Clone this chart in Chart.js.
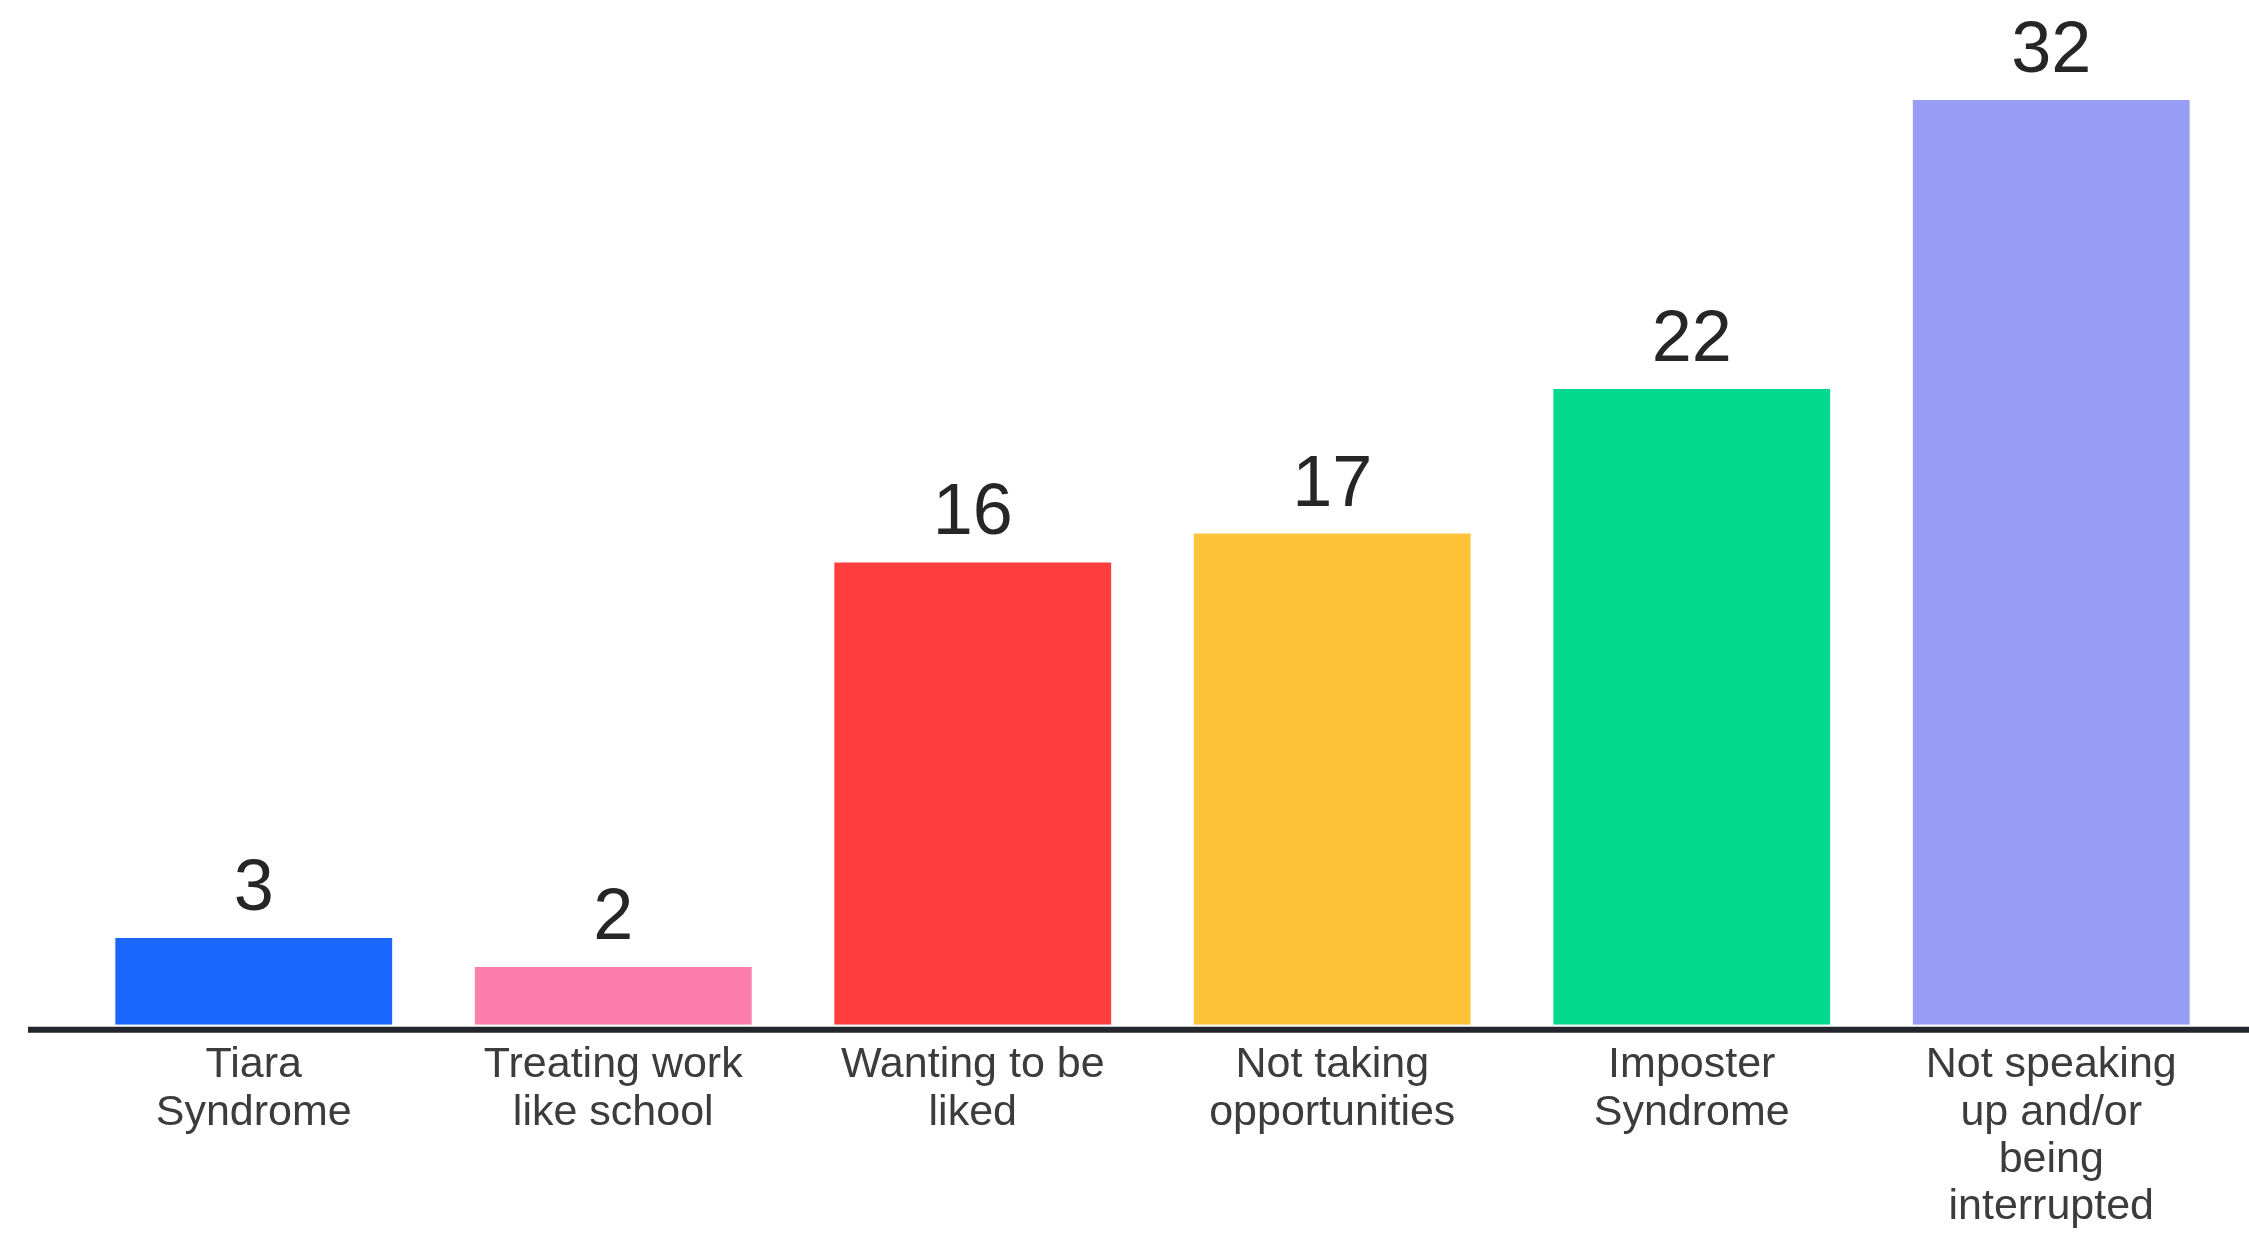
<!DOCTYPE html>
<html>
<head>
<meta charset="utf-8">
<script src="https://cdn.jsdelivr.net/npm/chart.js@4/dist/chart.umd.min.js"></script>
<style>
  html, body { margin: 0; padding: 0; background: #ffffff; }
  #wrap { width: 2249px; height: 1234px; position: relative; }
</style>
</head>
<body>
<div id="wrap"><canvas id="c"></canvas></div>
<script>
const categories = [
  ["Tiara", "Syndrome"],
  ["Treating work", "like school"],
  ["Wanting to be", "liked"],
  ["Not taking", "opportunities"],
  ["Imposter", "Syndrome"],
  ["Not speaking", "up and/or", "being", "interrupted"]
];
const values = [3, 2, 16, 17, 22, 32];
const barColors = ["#1b66fc", "#fe7eab", "#fe3e3e", "#fec339", "#02d98e", "#979cf4"];

const valueLabels = {
  id: 'valueLabels',
  afterDatasetsDraw(chart) {
    const ctx = chart.ctx;
    const meta = chart.getDatasetMeta(0);
    ctx.save();
    ctx.font = '72px "Liberation Sans", Arial, sans-serif';
    ctx.fillStyle = '#262626';
    ctx.textAlign = 'center';
    ctx.textBaseline = 'alphabetic';
    meta.data.forEach((bar, i) => {
      ctx.fillText(String(values[i]), bar.x, bar.y - 28);
    });
    ctx.restore();
  }
};

const baseLine = {
  id: 'baseLine',
  afterDatasetsDraw(chart) {
    const ctx = chart.ctx;
    const y0 = chart.scales.y.getPixelForValue(0);
    ctx.save();
    ctx.strokeStyle = '#22252b';
    ctx.lineWidth = 6;
    ctx.beginPath();
    ctx.moveTo(chart.chartArea.left - 46, y0 + 5);
    ctx.lineTo(chart.width, y0 + 5);
    ctx.stroke();
    ctx.restore();
  }
};

new Chart(document.getElementById('c'), {
  type: 'bar',
  data: {
    labels: categories,
    datasets: [{
      data: values,
      backgroundColor: barColors,
      borderWidth: 0,
      categoryPercentage: 1.0,
      barPercentage: 0.77
    }]
  },
  options: {
    responsive: true,
    maintainAspectRatio: false,
    animation: false,
    layout: { padding: { top: 100, left: 74, right: 18, bottom: -14 } },
    plugins: { legend: { display: false }, tooltip: { enabled: false } },
    scales: {
      x: {
        grid: { display: false, drawTicks: false },
        border: { display: false },
        ticks: {
          padding: 17,
          color: '#3c3c3c',
          font: { family: '"Liberation Sans", Arial, sans-serif', size: 43, lineHeight: 1.1 },
          maxRotation: 0,
          autoSkip: false
        }
      },
      y: {
        display: false,
        min: 0,
        max: 32
      }
    }
  },
  plugins: [valueLabels, baseLine]
});
</script>
</body>
</html>
